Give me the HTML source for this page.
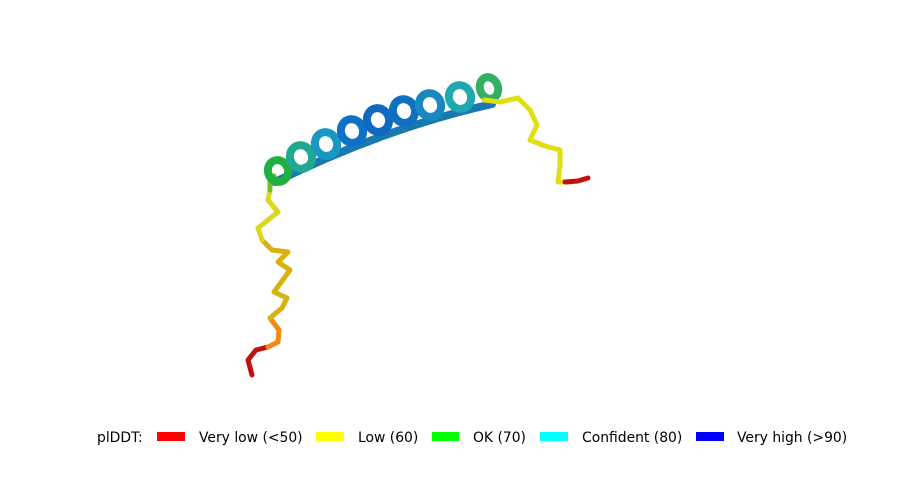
<!DOCTYPE html>
<html><head><meta charset="utf-8"><style>
body{margin:0;background:#fff;}
svg{display:block;font-family:"DejaVu Sans","Liberation Sans",sans-serif;}
</style></head><body>
<svg width="915" height="481" viewBox="0 0 915 481">
<g fill="none" stroke-linecap="round" stroke-linejoin="round">
  <polyline stroke="#c01010" stroke-width="5" points="252,375 248,360 256,350 268,347"/>
  <polyline stroke="#f08a10" stroke-width="5" points="268,347 278,342 279,330 270,318"/>
  <polyline stroke="#d8b010" stroke-width="5" points="270,318 282,308 287,298 274,292 290,270 278,262 288,252 272,250 262,240"/>
  <polyline stroke="#dcd820" stroke-width="5" points="262,240 258,228 268,220 278,212 268,200 270,190"/>
  <polyline stroke="#70c020" stroke-width="5" points="270,190 270,180 274,176"/>
  <path stroke="#1a78b0" stroke-width="8" d="M275,182 Q385,128 492,104"/>
  <g stroke-width="8">
    <ellipse cx="278" cy="171" rx="10" ry="11" stroke="#20b040" transform="rotate(-20 278 171)"/>
    <ellipse cx="301" cy="157" rx="11" ry="12" stroke="#20a890" transform="rotate(-20 301 157)"/>
    <ellipse cx="326" cy="144" rx="11" ry="12" stroke="#1898c0" transform="rotate(-20 326 144)"/>
    <ellipse cx="352" cy="131" rx="11" ry="12" stroke="#1070c8" transform="rotate(-20 352 131)"/>
    <ellipse cx="378" cy="120" rx="11" ry="12" stroke="#1068c0" transform="rotate(-20 378 120)"/>
    <ellipse cx="404" cy="111" rx="11" ry="12" stroke="#1070c0" transform="rotate(-20 404 111)"/>
    <ellipse cx="430" cy="105" rx="11" ry="12" stroke="#1888c0" transform="rotate(-20 430 105)"/>
    <ellipse cx="460" cy="97" rx="11" ry="12" stroke="#20a8b0" transform="rotate(-20 460 97)"/>
    <ellipse cx="489" cy="88" rx="9" ry="11" stroke="#30b060" transform="rotate(-20 489 88)"/>
  </g>
  <polyline stroke="#e0e010" stroke-width="5" points="484,100 500,102 518,98 530,110 537,125 530,140 545,146 560,150 560,165 558,182 572,182"/>
  <polyline stroke="#c01010" stroke-width="5" points="565,182 578,181 588,178"/>
</g>
<g font-size="13.9" fill="#000">
  <text x="97" y="442">plDDT:</text>
  <rect x="157" y="432" width="28" height="9" fill="#ff0000"/>
  <text x="199" y="442">Very low (&lt;50)</text>
  <rect x="316" y="432" width="28" height="9" fill="#ffff00"/>
  <text x="358" y="442">Low (60)</text>
  <rect x="432" y="432" width="27" height="9" fill="#00ff00"/>
  <text x="473" y="442">OK (70)</text>
  <rect x="540" y="432" width="28" height="9" fill="#00ffff"/>
  <text x="582" y="442">Confident (80)</text>
  <rect x="696" y="432" width="28" height="9" fill="#0000ff"/>
  <text x="737" y="442">Very high (&gt;90)</text>
</g>
</svg>
</body></html>
